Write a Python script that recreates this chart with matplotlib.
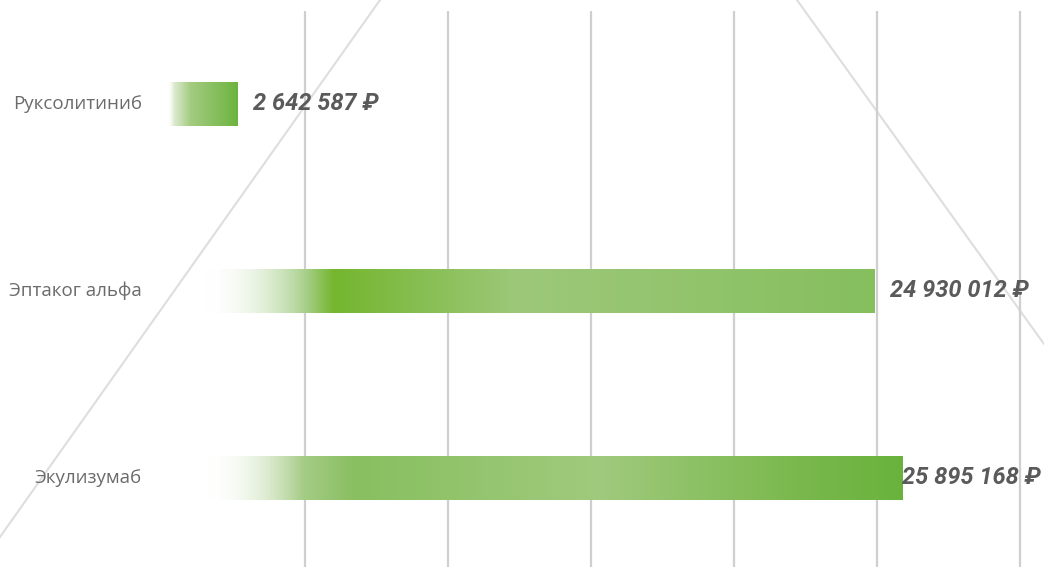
import numpy as np
import matplotlib
matplotlib.use("Agg")
import matplotlib.pyplot as plt
from matplotlib.colors import to_rgb

drugs = ["Руксолитиниб", "Эптаког альфа", "Экулизумаб"]
costs = [2642587, 24930012, 25895168]
grid_ticks = [5e6, 10e6, 15e6, 20e6, 25e6, 30e6]

# gradient stops per bar: (fraction of bar length, colour, alpha)
stops = [
    [(0.0, "#ffffff", 0.0), (0.08, "#ffffff", 0.2), (0.16, "#dcebcf", 1), (0.38, "#a3cb80", 1),
     (1.0, "#6cb43e", 1)],
    [(0.0, "#ffffff", 0.0), (0.06, "#ffffff", 0.0), (0.20, "#a9d08c", 1), (0.24, "#74b62e", 1),
     (0.50, "#9dc87a", 1), (0.75, "#92c46c", 1), (1.0, "#85bf5e", 1)],
    [(0.0, "#ffffff", 0.0), (0.06, "#ffffff", 0.0), (0.19, "#a5cc86", 1), (0.26, "#89bf60", 1),
     (0.40, "#92c46c", 1), (0.59, "#a0ca7d", 1), (0.86, "#7ab84d", 1), (1.0, "#69b33d", 1)],
]


def fmt(v):
    return f"{v:,}".replace(",", " ") + " \u20bd"


W, H = 1044, 567
fig = plt.figure(figsize=(W / 100, H / 100), dpi=100)

# decorative diagonal lines
deco = fig.add_axes([0, 0, 1, 1])
deco.set_xlim(0, W)
deco.set_ylim(H, 0)
deco.axis("off")
deco.plot([380, 0], [0, 537], color="#dedede", lw=1.5)
deco.plot([797, 1044], [0, 344], color="#dedede", lw=1.5)

x0, x1 = 162, W
y_top, y_bot = 11, 567
ax = fig.add_axes([x0 / W, 1 - y_bot / H, (x1 - x0) / W, (y_bot - y_top) / H])
ax.patch.set_alpha(0)
xmax = 5e6 * (x1 - x0) / 143
ax.set_xlim(0, xmax)
ax.set_ylim(2.476, -0.497)
for s in ax.spines.values():
    s.set_visible(False)
ax.set_xticks(grid_ticks)
ax.set_yticks([])
ax.tick_params(axis="x", length=0, labelbottom=False)
ax.grid(axis="x", color="#cfcfcf", lw=1.6)
ax.set_axisbelow(True)

h = 0.235
n = 400
for i, (name, v) in enumerate(zip(drugs, costs)):
    fr = np.linspace(0, 1, n)
    pos = [s[0] for s in stops[i]]
    rgb = np.array([to_rgb(s[1]) for s in stops[i]])
    alp = [s[2] for s in stops[i]]
    img = np.zeros((1, n, 4))
    for c in range(3):
        img[0, :, c] = np.interp(fr, pos, rgb[:, c])
    img[0, :, 3] = np.interp(fr, pos, alp)
    ax.imshow(img, extent=(0, v, i + h / 2, i - h / 2), aspect="auto",
              interpolation="bilinear", zorder=2)

    fig.text(142 / W, 1 - (104 + 187 * i) / H, name, ha="right", va="center",
             fontsize=13.5, color="#6b6b6b", family=["Open Sans", "DejaVu Sans"])

    ax.annotate(fmt(v), (v, i), xytext=(11, 0), textcoords="offset points",
                ha="left", va="center", fontsize=17, fontweight="bold",
                fontstyle="italic", color="#5a5a5a",
                family=["Liberation Sans Narrow", "Roboto", "DejaVu Sans"])

ax.set_xlim(0, xmax)
ax.set_ylim(2.476, -0.497)

# keep value labels inside the figure
fig.canvas.draw()
r = fig.canvas.get_renderer()
for t in ax.texts:
    bb = t.get_window_extent(r)
    if bb.x1 > W - 3:
        t.set_position((t.xyann[0] - (bb.x1 - (W - 3)) * 72 / 100, 0))

fig.savefig("out.png", dpi=100)
